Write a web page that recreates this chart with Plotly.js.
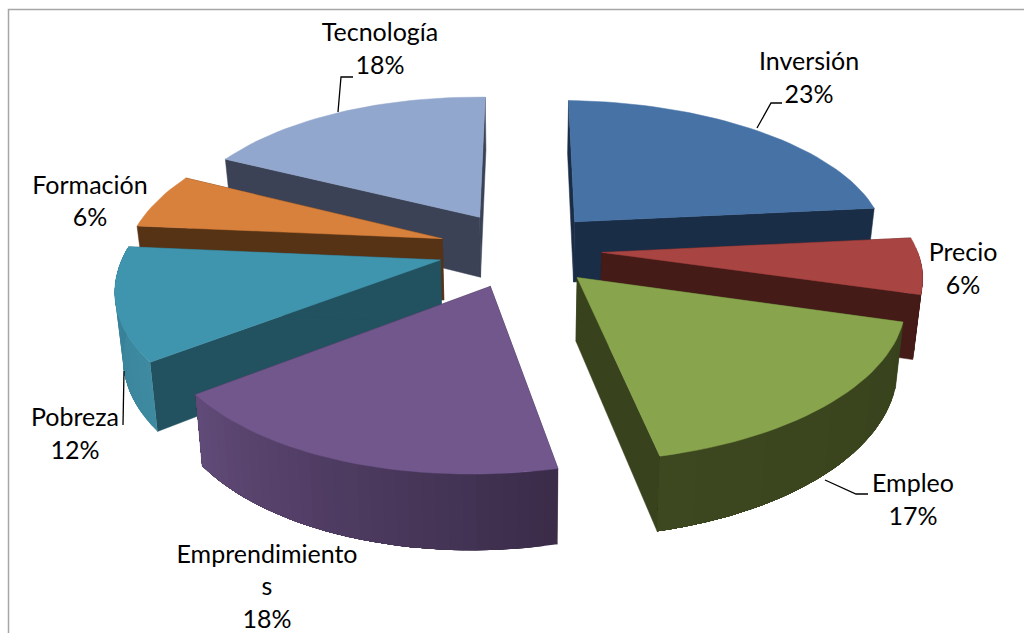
<!DOCTYPE html>
<html><head><meta charset="utf-8">
<script src="https://cdn.plot.ly/plotly-3.0.1.min.js"></script>
<style>html,body{margin:0;padding:0;background:#fff}#c{width:1024px;height:633px}</style></head>
<body><div id="c"></div>
<script>
// Data
const categories = ["Inversión","Precio","Empleo","Emprendimientos","Pobreza","Formación","Tecnología"];
const labelLines = ["Inversión","Precio","Empleo","Emprendimiento<br>s","Pobreza","Formación","Tecnología"];
const values = [23,6,17,18,12,6,18];
// Styles
const topColors = ["#4672a6","#a84442","#88a44c","#71578c","#4095ae","#d8813c","#92a7cd"];
const faceColors = ["#1a2d46","#451b18","#38431d","#3a2c49","#225260","#573316","#3b4256"];
const wallColors = [["#1a2d46","#1a2d46"],["#451b18","#451b18"],["#38431d","#3d4820"],["#3a2c49","#614a78"],["#3e8aa1","#367f95"],["#573316","#573316"],["#3b4256","#3b4256"]];
const labelPos = [[809,80],[963,271],[913,502],[267,589],[75,436],[90,203.5],[380,51]];
const leaders = [[[757,128],[771,103],[782,103]],[],[[825,480],[856,494],[868,494]],[],[[124,371],[123,425]],[],[[338,112],[341,77],[353,77]]];
// Projection constants
const cx=520, cy=249, A=315, B=147, P=0.15, EX=0.26, DEPTH=62, startDeg=1.5;
const drawOrder=[6,0,5,1,4,2,3];
const rad=d=>d*Math.PI/180;
function project(wx,wy,down){
  const s=1/(1-P*wy);
  let x=cx+A*wx*s-7*wy*wy-3.5*wy, y=cy+B*wy*s;
  if(down){ y+=DEPTH*s; x=cx+(x-cx)*0.98; }
  return [x,y];
}
function mix(a,b,t){
  const p=h=>[1,3,5].map(i=>parseInt(h.slice(i,i+2),16));
  const A1=p(a),B1=p(b);
  return "rgb("+A1.map((v,i)=>Math.round(v+(B1[i]-v)*t)).join(",")+")";
}
const total=values.reduce((a,b)=>a+b,0);
let cum=0;
const slices=values.map(v=>{const a0=startDeg+cum/total*360;cum+=v;return {a0,a1:startDeg+cum/total*360};});
function poly(pts,color,name,w){
  return {type:"scatter",mode:"lines",x:pts.map(p=>p[0]),y:pts.map(p=>p[1]),fill:"toself",fillcolor:color,
    line:{color:color,width:w},hoverinfo:"text",text:name,showlegend:false};
}
const traces=[];
drawOrder.forEach(i=>{
  const {a0,a1}=slices[i], mid=(a0+a1)/2;
  const ox=EX*Math.sin(rad(mid)), oy=-EX*Math.cos(rad(mid));
  const pt=a=>[ox+Math.sin(rad(a)),oy-Math.cos(rad(a))];
  const apex=[ox,oy];
  const T=(w)=>project(w[0],w[1],false), D=(w)=>project(w[0],w[1],true);
  const n=Math.max(8,Math.round((a1-a0)/2));
  const angs=[];for(let k=0;k<=n;k++)angs.push(a0+(a1-a0)*k/n);
  const arc=angs.map(pt);
  traces.push(poly([T(apex),T(arc[0]),D(arc[0]),D(apex),T(apex)],faceColors[i],categories[i],0.5));
  traces.push(poly([T(apex),T(arc[n]),D(arc[n]),D(apex),T(apex)],faceColors[i],categories[i],0.5));
  // outer wall only where it faces the viewer; each band is painted over by the next, so no seams
  const seen=arc.filter((_,k)=>angs[k]>=88&&angs[k]<=276);
  for(let k=0;k<seen.length-1;k++){
    const t=(k+0.5)/(seen.length-1), rest=seen.slice(k);
    traces.push(poly([...rest.map(T),...rest.slice().reverse().map(D),T(rest[0])],mix(wallColors[i][0],wallColors[i][1],t),categories[i],0));
  }
  traces.push(poly([T(apex),...arc.map(T),T(apex)],topColors[i],categories[i],0.5));
});
const labelTexts=labelLines.map((l,i)=>l+"<br>"+Math.round(values[i]/total*100)+"%");
leaders.forEach(l=>{ if(l.length) traces.push({type:"scatter",mode:"lines",x:l.map(p=>p[0]),y:l.map(p=>p[1]),line:{color:"#000",width:1.3},hoverinfo:"skip",showlegend:false}); });
traces.push({type:"scatter",mode:"text",x:labelPos.map(p=>p[0]),y:labelPos.map(p=>p[1]),text:labelTexts,textposition:"middle center",
  textfont:{family:"Lato, Carlito, sans-serif",size:25,color:"#000"},hoverinfo:"skip",showlegend:false});
traces.push({type:"scatter",mode:"lines",x:[8.5,8.5,1024],y:[633,9.5,9.5],line:{color:"#a6a6a6",width:1.5},hoverinfo:"skip",showlegend:false});
Plotly.newPlot("c",traces,{
  width:1024,height:633,margin:{l:0,r:0,t:0,b:0},paper_bgcolor:"#fff",plot_bgcolor:"#fff",showlegend:false,
  xaxis:{range:[0,1024],visible:false,fixedrange:true},
  yaxis:{range:[633,0],visible:false,fixedrange:true}
},{displayModeBar:false,staticPlot:true});
</script></body></html>
